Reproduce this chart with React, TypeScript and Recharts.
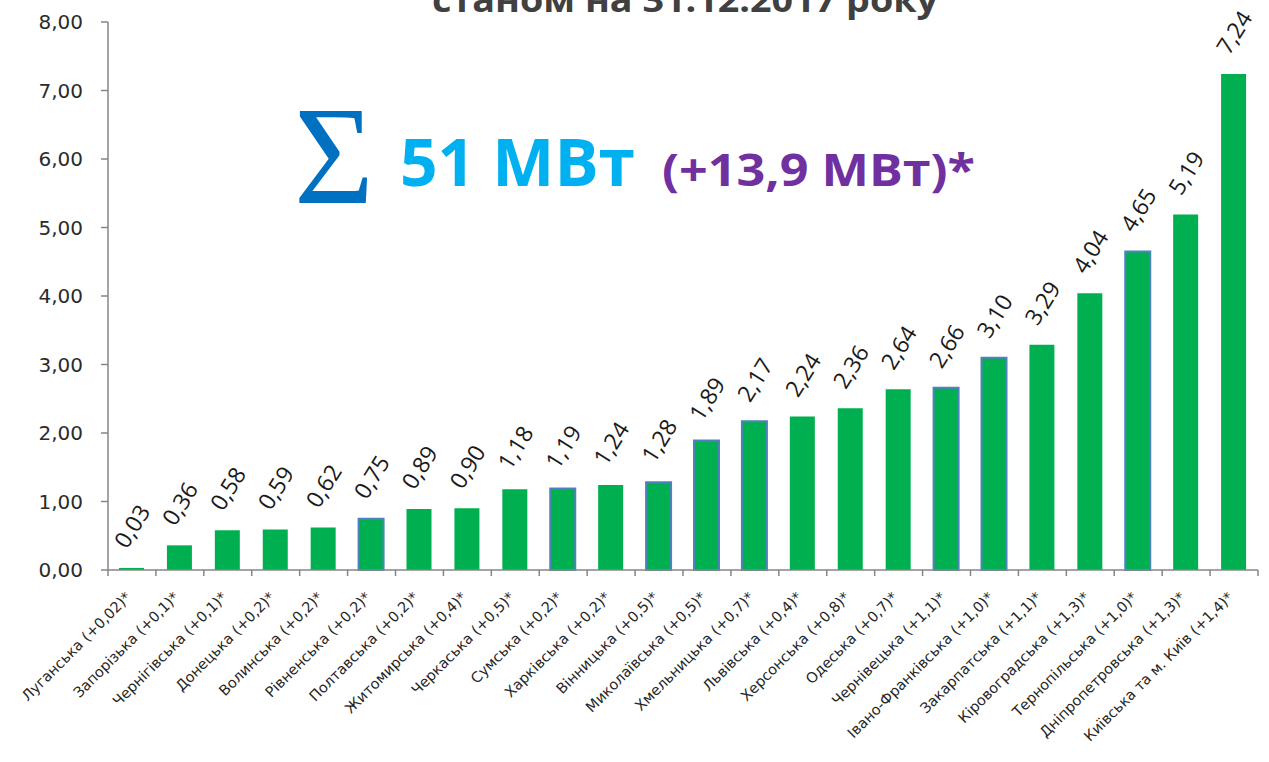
import React from 'react';
import { BarChart, Bar, XAxis, YAxis, Cell, LabelList } from 'recharts';

const regions = [
  'Луганська (+0,02)*',
  'Запорізька (+0,1)*',
  'Чернігівська (+0,1)*',
  'Донецька (+0,2)*',
  'Волинська (+0,2)*',
  'Рівненська (+0,2)*',
  'Полтавська (+0,2)*',
  'Житомирська (+0,4)*',
  'Черкаська (+0,5)*',
  'Сумська (+0,2)*',
  'Харківська (+0,2)*',
  'Вінницька (+0,5)*',
  'Миколаївська (+0,5)*',
  'Хмельницька (+0,7)*',
  'Львівська (+0,4)*',
  'Херсонська (+0,8)*',
  'Одеська (+0,7)*',
  'Чернівецька (+1,1)*',
  'Івано-Франківська (+1,0)*',
  'Закарпатська (+1,1)*',
  'Кіровоградська (+1,3)*',
  'Тернопільська (+1,0)*',
  'Дніпропетровська (+1,3)*',
  'Київська та м. Київ (+1,4)*',
];

const capacityMw = [
  0.03, 0.36, 0.58, 0.59, 0.62, 0.75, 0.89, 0.9, 1.18, 1.19, 1.24, 1.28,
  1.89, 2.17, 2.24, 2.36, 2.64, 2.66, 3.1, 3.29, 4.04, 4.65, 5.19, 7.24,
];

const yTicks = [0, 1, 2, 3, 4, 5, 6, 7, 8];

// regions drawn with a blue outline in the original
const outlinedRegions = [
  'Рівненська (+0,2)*',
  'Сумська (+0,2)*',
  'Вінницька (+0,5)*',
  'Миколаївська (+0,5)*',
  'Хмельницька (+0,7)*',
  'Чернівецька (+1,1)*',
  'Івано-Франківська (+1,0)*',
  'Тернопільська (+1,0)*',
];

const titleLine = 'станом на 31.12.2017 року';
const totalText = '51 МВт';
const deltaText = '(+13,9 МВт)*';

const W = 1269;
const H = 762;
const xAxisHeight = 30;
const margin = { top: 22, right: 11, left: 8, bottom: 192 - xAxisHeight };
const yAxisWidth = 100;
const plotW = W - margin.left - margin.right - yAxisWidth;
const band = plotW / regions.length;

const fmt = (v: number) => v.toFixed(2).replace('.', ',');

const rows = regions.map((name, i) => ({ name, value: capacityMw[i] }));

function XTick(props: any) {
  const { x, y, payload, index } = props;
  const last = index === regions.length - 1;
  const tx = x;
  const ty = y + 28;
  return (
    <g>
      <line x1={x - band / 2} x2={x - band / 2} y1={y} y2={y + 6} stroke="#868686" strokeWidth={1.5} />
      {last && <line x1={x + band / 2} x2={x + band / 2} y1={y} y2={y + 6} stroke="#868686" strokeWidth={1.5} />}
      <text
        x={tx}
        y={ty}
        textAnchor="end"
        fontFamily="DejaVu Sans"
        fontSize={14.5}
        fill="#262626"
        transform={`rotate(-45 ${tx} ${ty})`}
      >
        {payload.value}
      </text>
    </g>
  );
}

function ValueLabel(props: any) {
  const { x, y, width, value } = props;
  const cx = x + width / 2;
  const cy = y - 42;
  return (
    <text
      x={cx}
      y={cy}
      textAnchor="middle"
      dominantBaseline="central"
      fontFamily="Open Sans"
      fontSize={23}
      fill="#1a1a1a"
      transform={`rotate(-58 ${cx} ${cy})`}
    >
      {fmt(value)}
    </text>
  );
}

export default function App() {
  return (
    <div style={{ position: 'absolute', left: 0, top: 0, width: W, height: H, background: '#fff' }}>
      <BarChart width={W} height={H} data={rows} margin={margin} barSize={25}>
        <XAxis
          dataKey="name"
          height={xAxisHeight}
          interval={0}
          tickLine={false}
          tickSize={0}
          tickMargin={0}
          stroke="#868686"
          strokeWidth={1.5}
          tick={<XTick />}
        />
        <YAxis
          width={yAxisWidth}
          domain={[0, 8]}
          ticks={yTicks}
          tickFormatter={fmt}
          tickSize={7}
          tickMargin={18}
          stroke="#868686"
          strokeWidth={1.5}
          tick={{ fill: '#2b2b2b', fontSize: 20, fontFamily: 'DejaVu Sans' }}
        />
        <Bar dataKey="value" fill="#00B050" isAnimationActive={false}>
          {rows.map((r) => (
            <Cell
              key={r.name}
              fill="#00B050"
              stroke={outlinedRegions.includes(r.name) ? '#4F81BD' : '#00B050'}
              strokeWidth={outlinedRegions.includes(r.name) ? 2 : 0}
            />
          ))}
          <LabelList dataKey="value" content={<ValueLabel />} />
        </Bar>
      </BarChart>
      <svg width={W} height={H} style={{ position: 'absolute', left: 0, top: 0, pointerEvents: 'none' }}>
        <text
          x={432}
          y={12}
          fontFamily="Open Sans"
          fontWeight="bold"
          fontSize={34}
          fill="#404040"
          textLength={506}
          lengthAdjust="spacingAndGlyphs"
        >
          {titleLine}
        </text>
        <text
          x={294}
          y={203}
          fontFamily="Liberation Serif"
          fontSize={140}
          fill="#0070C0"
          textLength={80}
          lengthAdjust="spacingAndGlyphs"
        >
          Σ
        </text>
        <text
          x={400}
          y={186}
          fontFamily="Open Sans"
          fontWeight="bold"
          fontSize={67}
          fill="#00B0F0"
          textLength={235}
          lengthAdjust="spacingAndGlyphs"
        >
          {totalText}
        </text>
        <text
          x={662}
          y={186}
          fontFamily="Open Sans"
          fontWeight="bold"
          fontSize={45}
          fill="#7030A0"
          textLength={313}
          lengthAdjust="spacingAndGlyphs"
        >
          {deltaText}
        </text>
      </svg>
    </div>
  );
}
